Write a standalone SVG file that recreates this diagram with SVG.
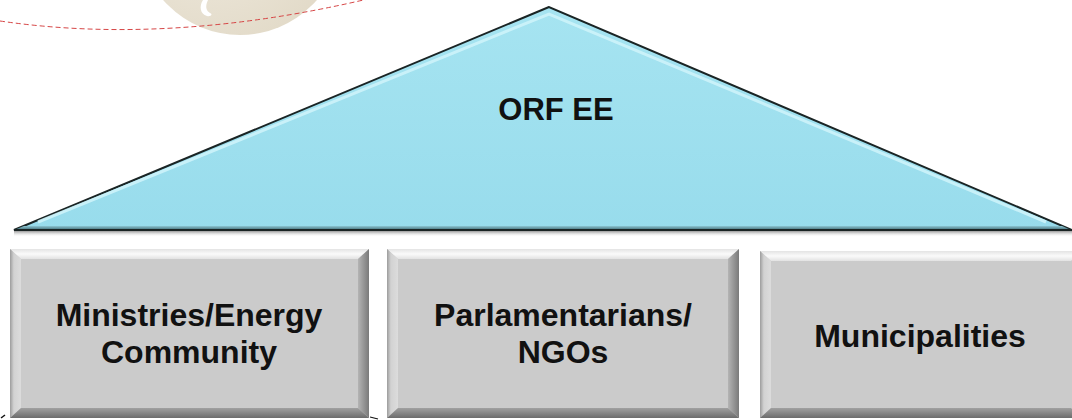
<svg xmlns="http://www.w3.org/2000/svg" width="1072" height="420" viewBox="0 0 1072 420">
<defs>
<style>
.lbl{font-family:"Liberation Sans",Arial,sans-serif;font-weight:bold;font-size:32px;fill:#111;text-anchor:middle}
.face{fill:#cbcbcb}
.btop{fill:url(#gTop)}
.bleft{fill:url(#gLeft)}
.bright{fill:url(#gRight)}
.bbot{fill:url(#gBot)}
</style>
<linearGradient id="gTop" x1="0" y1="0" x2="0" y2="1"><stop offset="0" stop-color="#e4e4e4"/><stop offset="0.5" stop-color="#fafafa"/><stop offset="1" stop-color="#e2e2e2"/></linearGradient>
<linearGradient id="gLeft" x1="0" y1="0" x2="1" y2="0"><stop offset="0" stop-color="#9c9c9c"/><stop offset="0.35" stop-color="#d2d2d2"/><stop offset="1" stop-color="#dcdcdc"/></linearGradient>
<linearGradient id="gRight" x1="0" y1="0" x2="1" y2="0"><stop offset="0" stop-color="#b4b4b4"/><stop offset="1" stop-color="#7a7a7a"/></linearGradient>
<linearGradient id="gBot" x1="0" y1="0" x2="0" y2="1"><stop offset="0" stop-color="#a0a0a0"/><stop offset="1" stop-color="#6c6c6c"/></linearGradient>
<linearGradient id="gRoof" x1="0" y1="0" x2="0" y2="1"><stop offset="0" stop-color="#a6e4f1"/><stop offset="1" stop-color="#98dcec"/></linearGradient>
<linearGradient id="gBase" x1="0" y1="0" x2="0" y2="1"><stop offset="0" stop-color="#8cc6d3"/><stop offset="1" stop-color="#3f6a74"/></linearGradient>
<linearGradient id="gShadow" x1="0" y1="0" x2="0" y2="1"><stop offset="0" stop-color="#9a9a9a"/><stop offset="1" stop-color="#ffffff" stop-opacity="0"/></linearGradient>
<radialGradient id="gGlobe" cx="0.35" cy="0.4" r="0.7"><stop offset="0" stop-color="#f1ece1"/><stop offset="1" stop-color="#e2dac8"/></radialGradient>
</defs>
<rect width="1072" height="420" fill="#ffffff"/>
<g id="decor">
<circle cx="240" cy="-67" r="102" fill="url(#gGlobe)"/>
<path d="M203,0 C199,6 200,14 207,16 C211,17 213,14 210,13 C206,11 205,6 208,0 Z" fill="#ffffff"/>
<path d="M0,21 Q170,46 372,-2" fill="none" stroke="#d64545" stroke-width="1" stroke-dasharray="5,3"/>
<path d="M1,418 L5,415" stroke="#111" stroke-width="1.5" fill="none"/>
<path d="M370,417 L378,419" stroke="#111" stroke-width="1.2" fill="none"/>
</g>
<g id="connectors"></g>
<g id="node-orf-ee">
<rect x="14" y="231" width="1058" height="6" fill="url(#gShadow)"/>
<polygon points="549,7 14,230 1072,230" fill="url(#gRoof)" stroke="#1a2424" stroke-width="2" stroke-linejoin="miter"/>
<polyline points="38,222 549,14 1046,222" fill="none" stroke="#cdf3fa" stroke-width="3" opacity="0.9"/>
<polygon points="24,226 1062,226 1071,230 14,230" fill="url(#gBase)"/>
<line x1="14" y1="230" x2="1072" y2="230" stroke="#1a2424" stroke-width="2"/>
<text class="lbl" x="556" y="120" style="font-size:31px">ORF EE</text>
</g>
<g id="node-ministries">
<rect class="face" x="10" y="249" width="359" height="169"/>
<polygon class="btop" points="10,249 369,249 358,259 21,259"/>
<polygon class="bleft" points="10,249 21,259 21,408 10,418"/>
<polygon class="bright" points="369,249 369,418 358,408 358,259"/>
<polygon class="bbot" points="10,418 21,408 358,408 369,418"/>
<text class="lbl" x="189" y="326">Ministries/Energy</text>
<text class="lbl" x="189" y="363">Community</text>
</g>
<g id="node-parlamentarians">
<rect class="face" x="387" y="249" width="352" height="169"/>
<polygon class="btop" points="387,249 739,249 728,259 398,259"/>
<polygon class="bleft" points="387,249 398,259 398,408 387,418"/>
<polygon class="bright" points="739,249 739,418 728,408 728,259"/>
<polygon class="bbot" points="387,418 398,408 728,408 739,418"/>
<text class="lbl" x="563" y="326">Parlamentarians/</text>
<text class="lbl" x="563" y="363">NGOs</text>
</g>
<g id="node-municipalities">
<rect class="face" x="760" y="251" width="322" height="167"/>
<polygon class="btop" points="760,251 1082,251 1071,261 771,261"/>
<polygon class="bleft" points="760,251 771,261 771,408 760,418"/>
<polygon class="bbot" points="760,418 771,408 1071,408 1082,418"/>
<text class="lbl" x="920" y="347">Municipalities</text>
</g>
</svg>
